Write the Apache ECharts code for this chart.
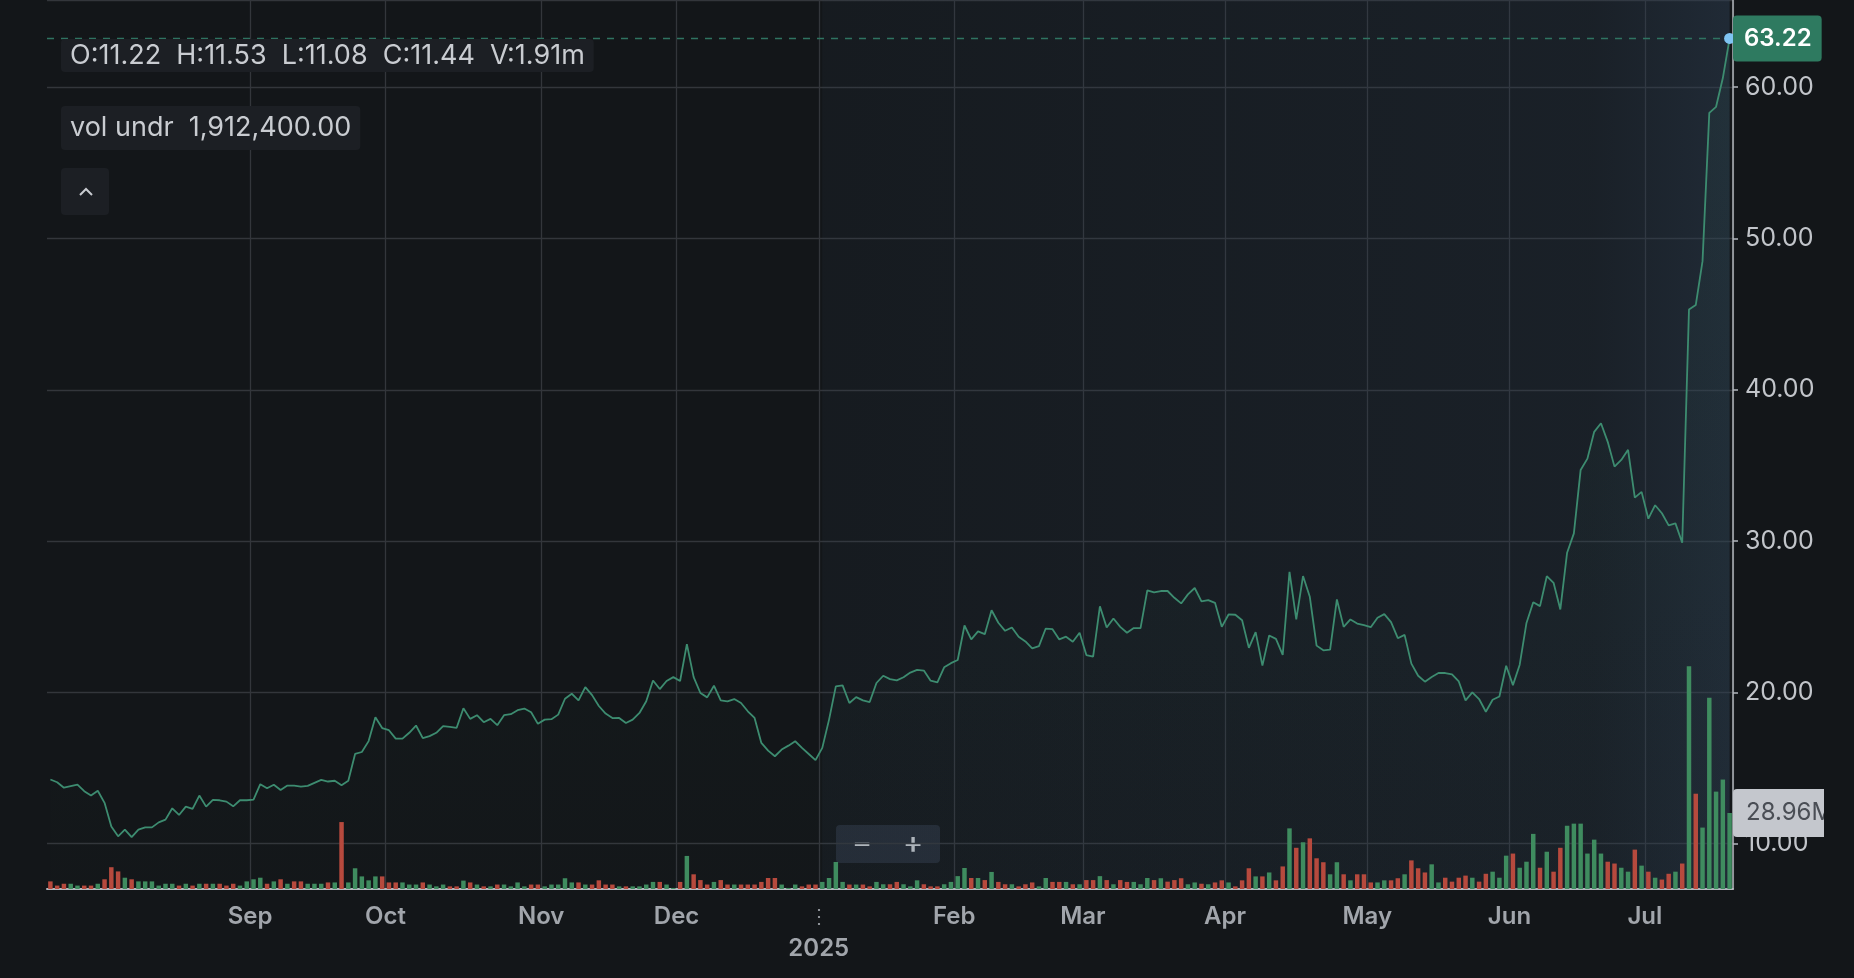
<!DOCTYPE html>
<html>
<head>
  <meta charset="utf-8">
  <title>price chart</title>
  <script src="https://cdn.jsdelivr.net/npm/echarts@6.0.0/dist/echarts.min.js"></script>
  <style type="text/css">
    html, body {
      margin: 0;
      padding: 0;
      background: #131619;
      overflow: hidden;
    }

    #chart {
      width: 1824px;
      height: 978px;
    }
  </style>
</head>

<body>
<div id="chart"></div>
<script>
  // 交易日：2024-07-22 ~ 2025-07-18，去掉周末和休市日
  var holidays = ['2024-09-02', '2024-11-28', '2024-12-25', '2025-01-01', '2025-01-09', '2025-01-20',
    '2025-02-17', '2025-04-18', '2025-05-26', '2025-06-19', '2025-07-04'];

  // 月份刻度
  var tickDates = ['2024-09-03', '2024-10-01', '2024-11-01', '2024-12-02', '2025-01-02', '2025-02-03',
    '2025-03-03', '2025-04-01', '2025-05-01', '2025-06-02', '2025-07-01'];
  var tickLabels = ['Sep', 'Oct', 'Nov', 'Dec', '2025', 'Feb', 'Mar', 'Apr', 'May', 'Jun', 'Jul'];

  // 收盘价
  var closes = [
    14.24, 14.06, 13.70, 13.80, 13.90, 13.47, 13.18, 13.50, 12.70, 11.13,
    10.49, 10.93, 10.44, 10.93, 11.08, 11.08, 11.41, 11.59, 12.34, 11.90,
    12.45, 12.30, 13.18, 12.45, 12.90, 12.87, 12.78, 12.47, 12.87, 12.87,
    12.91, 13.93, 13.66, 13.90, 13.55, 13.84, 13.84, 13.77, 13.82, 14.02,
    14.22, 14.11, 14.16, 13.87, 14.16, 15.93, 16.06, 16.78, 18.36, 17.64,
    17.50, 16.94, 16.94, 17.33, 17.81, 16.98, 17.11, 17.33, 17.77, 17.72,
    17.66, 18.95, 18.25, 18.49, 18.03, 18.25, 17.83, 18.49, 18.56, 18.82,
    18.93, 18.69, 17.92, 18.20, 18.23, 18.53, 19.58, 19.91, 19.47, 20.35,
    19.82, 19.10, 18.60, 18.30, 18.31, 17.98, 18.20, 18.64, 19.41, 20.79,
    20.22, 20.75, 21.01, 20.75, 23.19, 21.01, 19.96, 19.67, 20.44, 19.47,
    19.41, 19.56, 19.30, 18.75, 18.31, 16.66, 16.15, 15.78, 16.22, 16.48,
    16.77, 16.33, 15.93, 15.52, 16.33, 18.20, 20.40, 20.46, 19.30, 19.69,
    19.47, 19.36, 20.62, 21.10, 20.88, 20.79, 21.00, 21.31, 21.49, 21.44,
    20.77, 20.66, 21.66, 21.93, 22.14, 24.42, 23.50, 24.03, 23.85, 25.43,
    24.60, 24.07, 24.29, 23.68, 23.37, 22.91, 23.06, 24.22, 24.18, 23.50,
    23.68, 23.35, 23.94, 22.47, 22.36, 25.69, 24.29, 24.88, 24.33, 23.94,
    24.25, 24.25, 26.74, 26.61, 26.70, 26.70, 26.25, 25.88, 26.48, 26.90,
    26.01, 26.10, 25.92, 24.33, 25.15, 25.13, 24.77, 22.94, 23.98, 21.77,
    23.76, 23.54, 22.48, 27.96, 24.82, 27.69, 26.32, 23.09, 22.78, 22.83,
    26.14, 24.33, 24.82, 24.55, 24.44, 24.31, 24.93, 25.17, 24.64, 23.58,
    23.80, 21.90, 21.10, 20.71, 21.02, 21.28, 21.28, 21.19, 20.72, 19.47,
    20.00, 19.56, 18.72, 19.51, 19.73, 21.76, 20.48, 21.83, 24.59, 25.96,
    25.70, 27.68, 27.24, 25.48, 29.23, 30.51, 34.70, 35.45, 37.22, 37.79,
    36.56, 34.92, 35.36, 36.03, 32.87, 33.25, 31.48, 32.37, 31.84, 31.04,
    31.17, 29.89, 45.30, 45.60, 48.50, 58.30, 58.70, 60.60, 63.22
  ];

  // 成交量（百万股）
  var volumes = [
    2.9, 1.3, 2.0, 2.0, 1.3, 1.3, 1.3, 2.0, 3.7, 8.3,
    6.7, 4.3, 3.7, 2.9, 2.9, 2.9, 1.3, 2.0, 2.0, 1.3,
    2.0, 1.3, 2.0, 2.0, 2.0, 2.0, 1.3, 2.0, 1.3, 2.9,
    3.7, 4.3, 2.0, 2.9, 3.7, 2.0, 2.9, 2.9, 2.0, 2.0,
    2.0, 2.5, 2.5, 25.5, 2.5, 7.9, 4.8, 3.3, 4.8, 4.8,
    2.5, 2.5, 2.5, 1.7, 1.7, 2.5, 1.7, 1.0, 1.7, 1.0,
    1.0, 3.2, 2.5, 1.7, 1.0, 1.0, 1.7, 1.7, 1.0, 2.5,
    1.0, 1.7, 1.7, 1.0, 1.7, 1.7, 4.1, 2.5, 2.5, 1.7,
    1.7, 3.3, 1.7, 1.7, 1.0, 1.0, 1.0, 1.0, 1.7, 2.7,
    2.7, 1.7, 0.4, 2.7, 12.6, 5.6, 3.4, 1.7, 2.7, 3.4,
    1.7, 1.7, 1.7, 1.7, 1.7, 2.7, 4.2, 4.2, 1.7, 0.4,
    1.7, 1.0, 1.7, 1.7, 2.7, 4.2, 10.3, 2.7, 1.7, 1.7,
    1.7, 1.0, 2.7, 1.8, 1.8, 2.7, 1.8, 1.0, 3.3, 1.8,
    1.0, 1.0, 1.8, 2.7, 4.9, 8.0, 4.2, 4.2, 3.4, 6.5,
    2.7, 1.8, 1.8, 1.0, 1.8, 2.5, 1.0, 4.2, 2.7, 2.7,
    2.7, 1.8, 1.8, 3.4, 3.4, 4.9, 3.4, 1.8, 3.4, 2.7,
    2.7, 1.8, 4.2, 3.4, 4.1, 2.8, 3.4, 4.1, 1.8, 2.5,
    2.0, 1.8, 2.5, 3.3, 2.5, 1.0, 3.3, 7.9, 4.8, 4.8,
    6.3, 3.3, 8.6, 23.1, 15.7, 17.8, 19.3, 11.7, 10.2, 5.6,
    10.2, 5.6, 3.3, 5.6, 5.6, 2.5, 2.5, 3.3, 3.3, 4.1,
    5.6, 10.9, 7.9, 6.3, 9.4, 2.5, 4.3, 2.8, 4.3, 5.1,
    4.3, 2.8, 5.8, 6.6, 4.3, 12.7, 13.5, 8.1, 10.4, 21.0,
    8.1, 14.2, 6.6, 15.7, 24.1, 24.9, 24.9, 13.5, 18.8, 13.5,
    10.4, 9.7, 8.1, 6.6, 15.0, 8.9, 6.6, 4.3, 3.6, 5.8,
    6.6, 9.7, 84.9, 36.3, 23.4, 72.9, 37.1, 41.7, 28.96
  ];

  // 1 = 收涨（绿），0 = 收跌（红）
  var volUp = [
    0, 0, 0, 1, 1, 0, 0, 1, 0, 0,
    0, 1, 0, 1, 1, 1, 1, 1, 1, 0,
    1, 0, 1, 0, 1, 0, 0, 0, 1, 1,
    1, 1, 0, 1, 0, 1, 0, 0, 1, 1,
    1, 0, 1, 0, 1, 1, 1, 1, 1, 0,
    0, 0, 1, 1, 1, 0, 1, 1, 1, 0,
    0, 1, 0, 1, 0, 1, 0, 1, 1, 1,
    1, 0, 0, 1, 1, 1, 1, 1, 0, 1,
    0, 0, 0, 0, 1, 0, 1, 1, 1, 1,
    0, 1, 1, 0, 1, 0, 0, 0, 1, 0,
    0, 1, 0, 0, 0, 0, 0, 0, 1, 1,
    1, 0, 0, 0, 1, 1, 1, 1, 0, 1,
    0, 0, 1, 1, 0, 0, 1, 1, 1, 0,
    0, 0, 1, 1, 1, 1, 0, 1, 0, 1,
    0, 0, 1, 0, 0, 0, 1, 1, 0, 0,
    1, 0, 1, 0, 0, 1, 0, 1, 0, 0,
    1, 1, 1, 0, 1, 0, 0, 0, 1, 1,
    0, 1, 0, 0, 1, 0, 0, 0, 1, 0,
    1, 0, 0, 1, 0, 1, 0, 0, 0, 1,
    1, 0, 1, 0, 0, 0, 1, 1, 0, 0,
    1, 0, 0, 0, 1, 1, 0, 0, 0, 0,
    1, 0, 0, 1, 1, 1, 0, 1, 1, 1,
    0, 1, 0, 0, 1, 1, 1, 1, 1, 1,
    0, 0, 1, 1, 0, 1, 0, 1, 0, 0,
    1, 0, 1, 0, 1, 1, 1, 1, 1
  ];

  var legendText = 'O:11.22  H:11.53  L:11.08  C:11.44  V:1.91m';
  var volUnderText = 'vol undr  1,912,400.00';

  var FONT = 'Inter, "Noto Sans", sans-serif';
  var UP = '#3f8c5f';
  var DOWN = '#b8493d';
  var GRID_LINE = '#33363b';
  var PRICE_MIN = 7.05;
  var PRICE_MAX = 65.76;

  function tradingDays(start, end) {
    var out = [];
    var d = new Date(start + 'T00:00:00Z');
    var stop = new Date(end + 'T00:00:00Z');
    while (d <= stop) {
      var wd = d.getUTCDay();
      var s = d.toISOString().slice(0, 10);
      if (wd !== 0 && wd !== 6 && holidays.indexOf(s) < 0) {
        out.push(s);
      }
      d.setUTCDate(d.getUTCDate() + 1);
    }
    return out;
  }

  var dates = tradingDays('2024-07-22', '2025-07-18');
  var lastIdx = dates.length - 1;
  var lastDate = dates[lastIdx];
  var lastClose = closes[closes.length - 1];
  var lastVol = volumes[volumes.length - 1];

  function isTick(index, value) {
    return tickDates.indexOf(value) >= 0;
  }

  var volData = [];
  for (var i = 0; i < volumes.length; i++) {
    volData.push({value: volumes[i], itemStyle: {color: volUp[i] ? UP : DOWN}});
  }

  var chart = echarts.init(document.getElementById('chart'), null, {renderer: 'canvas'});

  var option = {
    animation: false,
    backgroundColor: '#131619',
    textStyle: {fontFamily: FONT},
    title: [
      {
        text: legendText,
        left: 61, top: 39,
        padding: [3, 9],
        backgroundColor: '#1c1f24',
        borderRadius: 4,
        textStyle: {fontFamily: FONT, fontSize: 27, fontWeight: 'normal', color: '#c9ccd1', lineHeight: 27}
      },
      {
        text: volUnderText,
        left: 61, top: 106,
        padding: [8, 9],
        backgroundColor: '#1c1f24',
        borderRadius: 4,
        textStyle: {fontFamily: FONT, fontSize: 27, fontWeight: 'normal', color: '#c9ccd1', lineHeight: 28}
      }
    ],
    grid: [
      // 价格：0 落在画布外，刻度按 10 对齐
      {left: 47, right: 91, top: 0, bottom: -17, outerBoundsMode: 'none'},
      // 成交量与日期轴
      {left: 47, right: 91, top: 0, bottom: 89, outerBoundsMode: 'none'}
    ],
    xAxis: [
      {
        type: 'category', gridIndex: 0, data: dates, boundaryGap: true, show: false
      },
      {
        type: 'category', gridIndex: 1, data: dates, boundaryGap: true,
        axisLine: {lineStyle: {color: '#b3b7bd', width: 2}},
        axisTick: {interval: isTick, length: 10, lineStyle: {color: '#b3b7bd', width: 1.5}},
        splitLine: {show: true, interval: isTick, lineStyle: {color: GRID_LINE, width: 1.3}},
        axisLabel: {
          interval: isTick,
          margin: 12,
          padding: [0, 7, 0, 0],
          formatter: function (value) {
            var t = tickLabels[tickDates.indexOf(value)];
            if (t === '2025') {
              return '{d|⋮}\n{m|' + t + '}';
            }
            return '{m|' + t + '}';
          },
          rich: {
            m: {fontFamily: FONT, fontSize: 24, fontWeight: 600, color: '#a1a5ab', lineHeight: 32},
            d: {fontFamily: FONT, fontSize: 20, color: '#8d9197', lineHeight: 32}
          }
        }
      }
    ],
    yAxis: [
      {
        type: 'value', gridIndex: 0, position: 'right',
        min: 0, max: PRICE_MAX, interval: 10,
        axisLine: {show: false},
        axisTick: {show: true, length: 5, lineStyle: {color: '#b3b7bd', width: 1.5}},
        splitLine: {show: true, lineStyle: {color: GRID_LINE, width: 1.3}},
        axisLabel: {
          margin: 12,
          showMinLabel: false,
          showMaxLabel: false,
          fontFamily: FONT, fontSize: 25, color: '#c2c5ca',
          formatter: function (v) {
            return v.toFixed(2);
          }
        }
      },
      {
        type: 'value', gridIndex: 1, position: 'right',
        min: 0, max: 338.7,
        axisLine: {show: true, lineStyle: {color: '#b3b7bd', width: 1.5}},
        axisTick: {show: false},
        axisLabel: {show: false},
        splitLine: {show: false}
      }
    ],
    series: [
      {
        name: 'volume',
        type: 'bar',
        xAxisIndex: 1,
        yAxisIndex: 1,
        barWidth: '66%',
        data: volData,
        markLine: {
          silent: true,
          symbol: 'none',
          lineStyle: {color: 'rgba(0,0,0,0)', width: 0},
          label: {
            show: true,
            position: 'end',
            distance: 0,
            formatter: lastVol.toFixed(2) + 'M',
            fontFamily: FONT, fontSize: 24, color: '#4a4e55',
            backgroundColor: '#c4c7cd',
            borderRadius: 4,
            padding: [12, 40, 12, 13]
          },
          data: [{yAxis: lastVol}]
        }
      },
      {
        name: 'close',
        type: 'line',
        xAxisIndex: 0,
        yAxisIndex: 0,
        data: closes,
        showSymbol: false,
        lineStyle: {color: '#3d8c70', width: 1.8},
        areaStyle: {
          origin: PRICE_MIN,
          color: new echarts.graphic.LinearGradient(0, 0, 0, 1, [
            {offset: 0, color: 'rgba(61, 140, 112, 0.10)'},
            {offset: 1, color: 'rgba(61, 140, 112, 0.01)'}
          ])
        },
        // 2025 年以来的区间底色
        markArea: {
          silent: true,
          itemStyle: {
            color: new echarts.graphic.LinearGradient(0, 0, 1, 0, [
              {offset: 0, color: 'rgba(45, 62, 82, 0.12)'},
              {offset: 0.85, color: 'rgba(45, 62, 82, 0.26)'},
              {offset: 1, color: 'rgba(45, 62, 82, 0.5)'}
            ])
          },
          data: [[
            {xAxis: dates.indexOf(tickDates[4]), yAxis: PRICE_MAX},
            {xAxis: lastIdx, yAxis: PRICE_MIN}
          ]]
        },
        markLine: {
          silent: true,
          symbol: 'none',
          lineStyle: {color: '#2f7361', type: [7, 7], width: 1.4},
          label: {
            show: true,
            position: 'end',
            distance: 0,
            formatter: lastClose.toFixed(2),
            fontFamily: FONT, fontSize: 24, fontWeight: 600, color: '#ffffff',
            backgroundColor: '#2e7a60',
            borderRadius: 4,
            padding: [11, 10, 11, 11]
          },
          data: [{yAxis: lastClose}]
        },
        markPoint: {
          silent: true,
          symbol: 'circle',
          symbolSize: 11,
          itemStyle: {color: '#7fc4f3'},
          label: {show: false},
          data: [{coord: [lastDate, lastClose]}]
        }
      }
    ],
    graphic: [
      {
        type: 'rect', left: 61, top: 168,
        shape: {width: 48, height: 47, r: 4},
        style: {fill: '#1c1f24'}
      },
      {
        type: 'polyline',
        shape: {points: [[80, 195], [86, 189], [92, 195]]},
        style: {stroke: '#c8cbd0', lineWidth: 2, fill: null}
      },
      {
        type: 'rect', left: 836, top: 825,
        shape: {width: 104, height: 38, r: 4},
        style: {fill: 'rgba(38, 45, 54, 0.92)'}
      },
      {
        type: 'text', x: 862, y: 844,
        style: {text: '−', fontFamily: FONT, fontSize: 30, fontWeight: 600, fill: '#c3c7cc', align: 'center', verticalAlign: 'middle'}
      },
      {
        type: 'text', x: 913, y: 844,
        style: {text: '+', fontFamily: FONT, fontSize: 30, fontWeight: 600, fill: '#c3c7cc', align: 'center', verticalAlign: 'middle'}
      }
    ]
  };

  chart.setOption(option);
</script>
</body>
</html>
